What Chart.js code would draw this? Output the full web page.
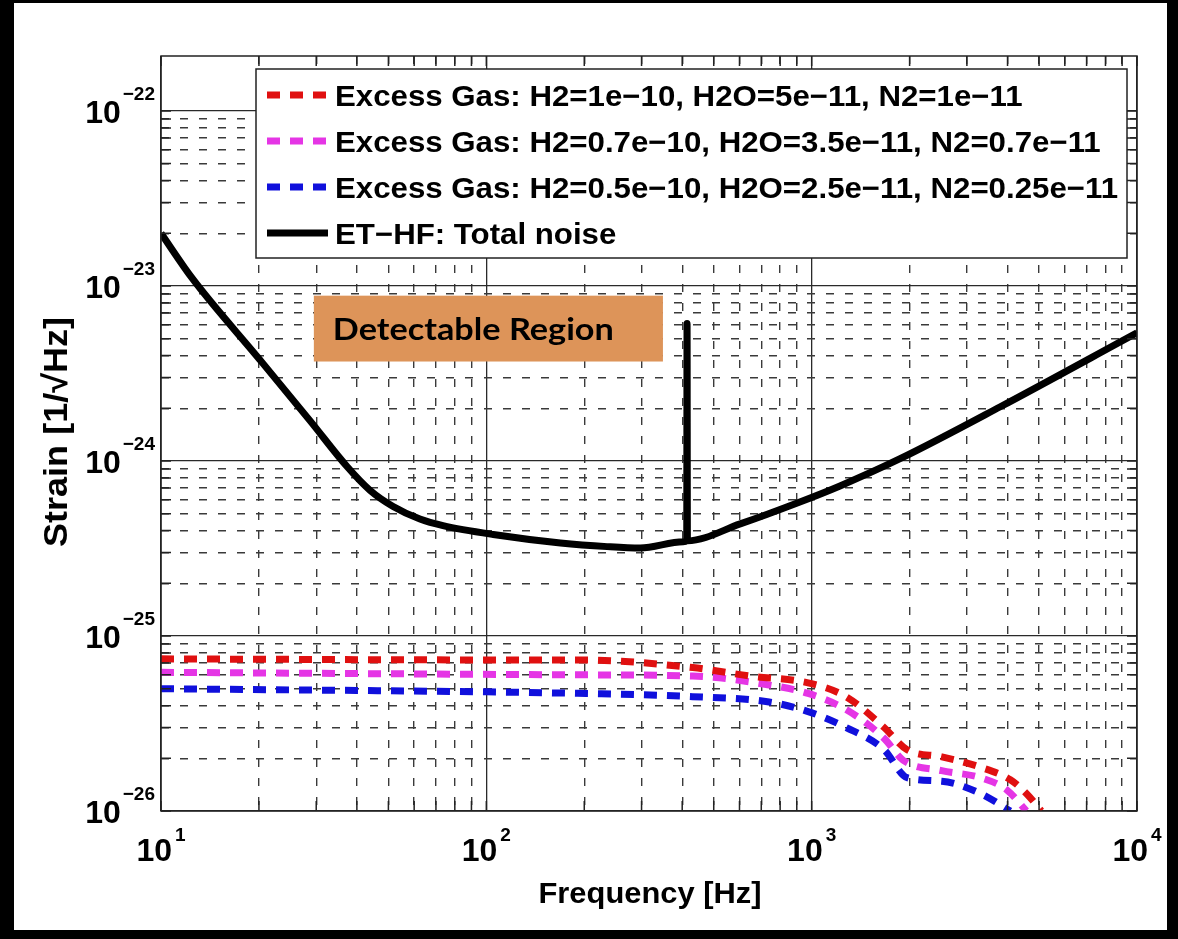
<!DOCTYPE html>
<html>
<head>
<meta charset="utf-8">
<title>ET-HF total noise and excess gas</title>
<script src="https://cdn.jsdelivr.net/npm/chart.js@4.4.1/dist/chart.umd.min.js"></script>
<style>
  html, body { margin: 0; padding: 0; background: #000; }
  #wrap { position: relative; width: 1178px; height: 939px; }
</style>
</head>
<body>
<div id="wrap"><canvas id="c" width="1178" height="939"></canvas></div>
<script>
(function () {
  "use strict";

  // --- values (Hz, strain 1/sqrt(Hz)) ---
  const noiseFreq = [10, 12.5, 20.1, 28.7, 37.3, 43.9, 51.7, 62.5, 73.6, 105, 169, 235, 297, 403, 413, 414, 415, 603, 920, 1222, 1870, 3800, 10000];
  const noiseStrain = [2.0e-23, 1.1e-23, 3.8e-24, 1.7e-24, 9.3e-25, 6.8e-25, 5.5e-25, 4.66e-25, 4.27e-25, 3.8e-25, 3.4e-25, 3.24e-25, 3.18e-25, 3.45e-25, 3.5e-25, 6.1e-24, 3.5e-25, 4.37e-25, 5.83e-25, 7.2e-25, 1.03e-24, 2.04e-24, 5.4e-24];

  const gasHighFreq = [10, 100, 191, 431, 647, 975, 1276, 1670, 1965, 2510, 3300, 4080, 4570, 5080];
  const gasHighStrain = [7.4e-26, 7.3e-26, 7.3e-26, 6.6e-26, 5.9e-26, 5.4e-26, 4.5e-26, 3.0e-26, 2.24e-26, 2.04e-26, 1.78e-26, 1.51e-26, 1.26e-26, 1.0e-26];

  const gasMidFreq = [10, 191, 431, 740, 975, 1276, 1670, 1910, 2510, 3300, 3980, 4570];
  const gasMidStrain = [6.2e-26, 6.0e-26, 5.9e-26, 5.25e-26, 4.7e-26, 3.8e-26, 2.6e-26, 1.95e-26, 1.7e-26, 1.55e-26, 1.32e-26, 1.0e-26];

  const gasLowFreq = [10, 191, 431, 740, 975, 1276, 1670, 1965, 2510, 3300, 4080];
  const gasLowStrain = [5.0e-26, 4.7e-26, 4.5e-26, 4.2e-26, 3.7e-26, 3.0e-26, 2.24e-26, 1.55e-26, 1.48e-26, 1.26e-26, 1.0e-26];

  const seriesLabels = [
    "Excess Gas: H2=1e\u221210, H2O=5e\u221211, N2=1e\u221211",
    "Excess Gas: H2=0.7e\u221210, H2O=3.5e\u221211, N2=0.7e\u221211",
    "Excess Gas: H2=0.5e\u221210, H2O=2.5e\u221211, N2=0.25e\u221211",
    "ET\u2212HF: Total noise"
  ];

  const xMajor = [10, 100, 1000, 10000];
  const xMinor = [20, 30, 40, 50, 60, 70, 80, 90, 200, 300, 400, 500, 600, 700, 800, 900, 2000, 3000, 4000, 5000, 6000, 7000, 8000, 9000];
  const yMajor = [1e-26, 1e-25, 1e-24, 1e-23, 1e-22];
  const yMinor = [2e-26, 3e-26, 4e-26, 5e-26, 6e-26, 7e-26, 8e-26, 9e-26,
                  2e-25, 3e-25, 4e-25, 5e-25, 6e-25, 7e-25, 8e-25, 9e-25,
                  2e-24, 3e-24, 4e-24, 5e-24, 6e-24, 7e-24, 8e-24, 9e-24,
                  2e-23, 3e-23, 4e-23, 5e-23, 6e-23, 7e-23, 8e-23, 9e-23];

  const xTitle = "Frequency [Hz]";
  const yTitle = "Strain [1/\u221aHz]";
  const region = { text: "Detectable Region", x: [29.5, 349], y: [3.7e-24, 8.8e-24] };

  const pts = (fs, vs) => fs.map((f, i) => ({ x: f, y: vs[i] }));
  const HELV = '"Liberation Sans", Arial, Helvetica, sans-serif';
  const minus = (s) => s.replace("-", "\u2212");

  // --- helpers for the overlaid drawing ---
  const fitText = (ctx, text, x, y, size, width, align) => {
    ctx.font = "bold " + size + "px " + HELV;
    const w = ctx.measureText(text).width;
    const k = width / w;
    ctx.save();
    ctx.translate(x, y);
    ctx.scale(k, 1);
    ctx.textAlign = align;
    ctx.fillText(text, 0, 0);
    ctx.restore();
  };

  const decor = {
    id: "decor",
    beforeDraw(chart) {
      const ctx = chart.ctx;
      ctx.save();
      ctx.fillStyle = "#000";
      ctx.fillRect(0, 0, chart.width, chart.height);
      ctx.fillStyle = "#fff";
      ctx.fillRect(14, 3, 1153, 927);
      ctx.restore();
    },
    afterDraw(chart) {
      const ctx = chart.ctx;
      const a = chart.chartArea;
      const sx = chart.scales.x, sy = chart.scales.y;
      ctx.save();
      ctx.fillStyle = "#000";
      ctx.textBaseline = "alphabetic";

      // detectable region label
      const rx1 = sx.getPixelForValue(region.x[0]), rx2 = sx.getPixelForValue(region.x[1]);
      const ry1 = sy.getPixelForValue(region.y[1]), ry2 = sy.getPixelForValue(region.y[0]);
      ctx.fillStyle = "#dd9459";
      ctx.fillRect(rx1, ry1, rx2 - rx1, ry2 - ry1);
      ctx.fillStyle = "#000";
      ctx.font = 'bold 31px Lato, "Open Sans", sans-serif';
      const rw = ctx.measureText(region.text).width;
      ctx.save();
      ctx.translate(rx1 + 19, ry1 + 44);
      ctx.scale(281 / rw, 1);
      ctx.fillText(region.text, 0, 0);
      ctx.restore();

      // legend box
      const lx = a.left + 95, ly = a.top + 13, lw = a.right - 10 - lx, lh = 189;
      ctx.fillStyle = "#fff";
      ctx.fillRect(lx, ly, lw, lh);
      ctx.lineWidth = 1.5;
      ctx.strokeStyle = "#222";
      ctx.strokeRect(lx, ly, lw, lh);
      ctx.font = "bold 30px " + HELV;
      const k = 783 / ctx.measureText(seriesLabels[2]).width;
      chart.data.datasets.forEach((ds, i) => {
        const yy = ly + 26 + i * 46;
        ctx.save();
        ctx.strokeStyle = ds.borderColor;
        ctx.lineWidth = ds.borderWidth;
        ctx.setLineDash(ds.borderDash || []);
        ctx.beginPath();
        ctx.moveTo(lx + 11, yy);
        ctx.lineTo(lx + 72, yy);
        ctx.stroke();
        ctx.restore();
        ctx.fillStyle = "#000";
        ctx.save();
        ctx.translate(lx + 79, yy + 11);
        ctx.scale(k, 1);
        ctx.fillText(ds.label, 0, 0);
        ctx.restore();
      });

      // plot frame and inward ticks
      ctx.strokeStyle = "#222";
      ctx.lineWidth = 1.5;
      ctx.strokeRect(a.left, a.top, a.right - a.left, a.bottom - a.top);
      ctx.beginPath();
      xMajor.concat(xMinor).forEach(v => {
        const px = sx.getPixelForValue(v);
        ctx.moveTo(px, a.bottom); ctx.lineTo(px, a.bottom - 10);
        ctx.moveTo(px, a.top); ctx.lineTo(px, a.top + 10);
      });
      yMajor.concat(yMinor).forEach(v => {
        const py = sy.getPixelForValue(v);
        ctx.moveTo(a.left, py); ctx.lineTo(a.left + 10, py);
        ctx.moveTo(a.right, py); ctx.lineTo(a.right - 10, py);
      });
      ctx.stroke();

      // tick labels 10^n
      ctx.fillStyle = "#000";
      yMajor.forEach(v => {
        const py = sy.getPixelForValue(v);
        const e = minus(String(Math.round(Math.log10(v))));
        ctx.font = "bold 19px " + HELV;
        const ew = ctx.measureText(e).width;
        ctx.textAlign = "left";
        ctx.fillText(e, a.left - 6 - ew, py - 11);
        ctx.font = "bold 32px " + HELV;
        ctx.textAlign = "right";
        ctx.fillText("10", a.left - 8 - ew, py + 12);
      });
      xMajor.forEach(v => {
        const px = sx.getPixelForValue(v);
        const e = String(Math.round(Math.log10(v)));
        ctx.font = "bold 19px " + HELV;
        const ew = ctx.measureText(e).width;
        ctx.font = "bold 32px " + HELV;
        const bw = ctx.measureText("10").width;
        const x0 = px - (bw + 3 + ew) / 2;
        ctx.textAlign = "left";
        ctx.fillText("10", x0, a.bottom + 50);
        ctx.font = "bold 19px " + HELV;
        ctx.fillText(e, x0 + bw + 3, a.bottom + 30);
      });

      // axis titles
      fitText(ctx, xTitle, (a.left + a.right) / 2 + 1, a.bottom + 92, 30, 223, "center");
      ctx.save();
      ctx.translate(67, 432);
      ctx.rotate(-Math.PI / 2);
      fitText(ctx, yTitle, 0, 0, 34, 230, "center");
      ctx.restore();

      ctx.restore();
    }
  };

  const logAxis = (min, max, list, pos, dashed) => ({
    type: "logarithmic",
    position: pos,
    min: min,
    max: max,
    afterBuildTicks: (axis) => { axis.ticks = list.map(v => ({ value: v })); },
    ticks: { display: false, autoSkip: false },
    title: { display: false },
    grid: {
      drawTicks: false,
      color: dashed ? "#3a3a3a" : "#2a2a2a",
      lineWidth: dashed ? 1.4 : 1.3,
      borderDash: dashed ? [8, 11] : []
    },
    border: { display: false, dash: dashed ? [8, 11] : [] }
  });

  const lineDs = (label, data, color, dash) => ({
    label: label,
    data: data,
    borderColor: color,
    backgroundColor: color,
    borderWidth: 7,
    borderDash: dash,
    borderCapStyle: "butt",
    borderJoinStyle: "round",
    cubicInterpolationMode: "monotone",
    pointRadius: 0,
    fill: false,
    clip: 0
  });

  new Chart(document.getElementById("c"), {
    type: "line",
    data: {
      datasets: [
        lineDs(seriesLabels[0], pts(gasHighFreq, gasHighStrain), "#e01010", [13, 10]),
        lineDs(seriesLabels[1], pts(gasMidFreq, gasMidStrain), "#e535e5", [13, 10]),
        lineDs(seriesLabels[2], pts(gasLowFreq, gasLowStrain), "#1010dc", [13, 10]),
        lineDs(seriesLabels[3], pts(noiseFreq, noiseStrain), "#000000", [])
      ]
    },
    options: {
      responsive: false,
      animation: false,
      devicePixelRatio: 1,
      layout: { padding: { left: 161, right: 41, top: 56, bottom: 128 } },
      plugins: { legend: { display: false }, tooltip: { enabled: false } },
      scales: {
        xMinor: logAxis(10, 10000, xMinor, "bottom", true),
        x: logAxis(10, 10000, xMajor, "bottom", false),
        yMinor: logAxis(1e-26, 2.06e-22, yMinor, "left", true),
        y: logAxis(1e-26, 2.06e-22, yMajor, "left", false)
      }
    },
    plugins: [decor]
  });
})();
</script>
</body>
</html>
